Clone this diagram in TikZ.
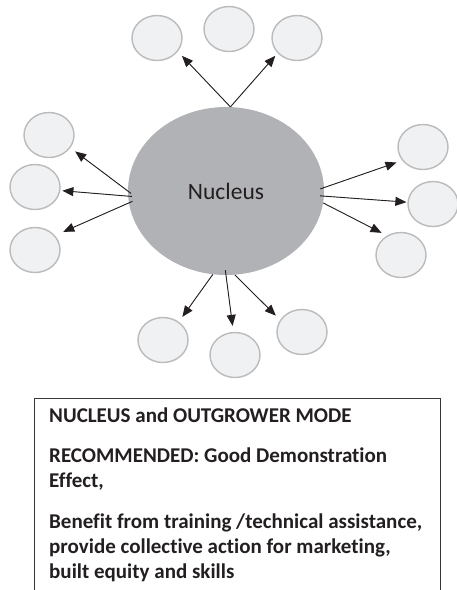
\documentclass[tikz,border=0pt]{standalone}
\usepackage{fontspec}
\setmainfont{Carlito}[Ligatures={NoCommon}]
\usetikzlibrary{shapes.geometric,arrows.meta}
\definecolor{nucfill}{HTML}{B1B2B5}
\definecolor{satfill}{HTML}{F0F1F3}
\definecolor{satline}{HTML}{BBBBBB}
\definecolor{inkc}{HTML}{231F20}
\begin{document}
\begin{tikzpicture}[x=1pt,y=-1pt,
 sat/.style={ellipse,draw=satline,fill=satfill,line width=1.4pt,minimum width=50pt,minimum height=45pt,inner sep=0pt},
 nuc/.style={ellipse,fill=nucfill,minimum width=196pt,minimum height=168pt,inner sep=0pt,text=inkc,font=\fontsize{23.5}{28}\selectfont},
 arr/.style={-{Triangle[length=11pt,width=9pt]},line width=0.9pt,draw=inkc,fill=inkc,shorten >=6pt},
 txt/.style={anchor=base west,inner sep=0pt,text=inkc,font=\fontsize{21}{25}\selectfont\bfseries},
 boxline/.style={line width=1pt,draw=inkc!90}]
\useasboundingbox (0,0) rectangle (457,590);
\node[nuc] (nuc) at (226,191) {Nucleus};
\node[sat] (t1) at (157,38) {};
\node[sat] (t2) at (229,29) {};
\node[sat] (t3) at (297,38) {};
\node[sat] (l1) at (49,135) {};
\node[sat] (l2) at (35,187) {};
\node[sat] (l3) at (35,250) {};
\node[sat] (r1) at (423,147) {};
\node[sat] (r2) at (433,204) {};
\node[sat] (r3) at (401,255) {};
\node[sat] (b1) at (163,340) {};
\node[sat] (b2) at (235,355) {};
\node[sat] (b3) at (302,332) {};
\draw[arr] (nuc.87) -- (t1.-33);
\draw[arr,shorten >=3.5pt] (nuc.87) -- (t3.-142);
\draw[arr,shorten <=-4pt] (nuc.180) -- (l1.-31);
\draw[arr,shorten <=-4pt,shorten >=2pt] (nuc.183) -- (l2.-8);
\draw[arr,shorten <=-4pt,shorten >=9pt] (nuc.187) -- (l3.36);
\draw[arr,shorten <=-4pt] (nuc.2) -- (r1.213);
\draw[arr,shorten <=-4pt,shorten >=1pt] (nuc.-3) -- (r2.176);
\draw[arr] (nuc.-7) -- (r3.126);
\draw[arr] (nuc.261) -- (b1.49);
\draw[arr,shorten <=-5pt] (nuc.270) -- (b2.94);
\draw[arr] (nuc.-84) -- (b3.151);
\draw[boxline] (34,600) |- (440,398) -- (440,600);
\node[txt] (h) at (49,422) {NUCLEUS and OUTGROWER MODE};
\node[txt] (rec1) at (49,462) {RECOMMENDED: Good Demonstration};
\node[txt] (rec2) at (49,487) {Effect,};
\node[txt] (ben1) at (49,528) {Benefit from training /technical assistance,};
\node[txt] (ben2) at (49,553) {provide collective action for marketing,};
\node[txt] (ben3) at (49,578) {built equity and skills};
\end{tikzpicture}
\end{document}
